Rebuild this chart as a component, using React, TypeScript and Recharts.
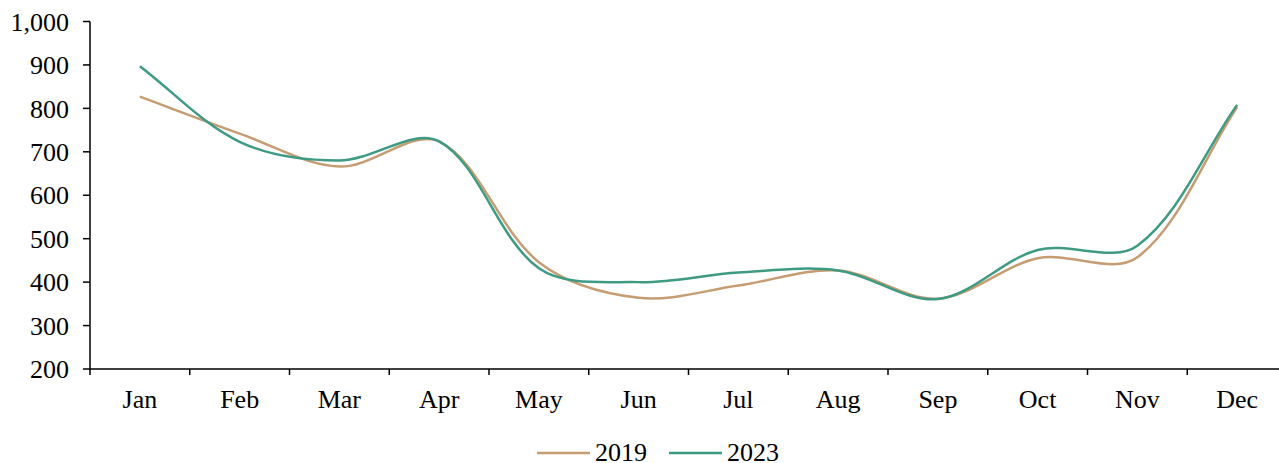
import { Legend, Line, LineChart, XAxis, YAxis } from 'recharts';

const months = ['Jan', 'Feb', 'Mar', 'Apr', 'May', 'Jun', 'Jul', 'Aug', 'Sep', 'Oct', 'Nov', 'Dec'];
const values2019 = [827, 742, 666, 724, 446, 364, 392, 427, 362, 455, 457, 803];
const values2023 = [897, 723, 680, 724, 432, 400, 422, 427, 361, 474, 484, 808];
const yTicks = [200, 300, 400, 500, 600, 700, 800, 900, 1000];

const data = months.map((month, i) => ({ month, y2019: values2019[i], y2023: values2023[i] }));

const FONT = '"Liberation Serif", "Times New Roman", serif';
const CHART_W = 1279;
const CHART_H = 455;
const Y_AXIS_W = 82;
const HALF_BAND = (CHART_W - Y_AXIS_W) / months.length / 2;

// smoothing close to Excel's "smoothed line" (bezier, tangents scaled by segment length)
function excelSmooth(context: any) {
  let pts: [number, number][] = [];
  const dist = (a: [number, number], b: [number, number]) => Math.hypot(b[0] - a[0], b[1] - a[1]);
  return {
    areaStart() {},
    areaEnd() {},
    lineStart() {
      pts = [];
    },
    point(x: number, y: number) {
      pts.push([+x, +y]);
    },
    lineEnd() {
      const n = pts.length;
      if (!n) return;
      context.moveTo(pts[0][0], pts[0][1]);
      for (let i = 0; i < n - 1; i++) {
        const p0 = pts[Math.max(i - 1, 0)];
        const p1 = pts[i];
        const p2 = pts[i + 1];
        const p3 = pts[Math.min(i + 2, n - 1)];
        const d01 = dist(p0, p1);
        const d12 = dist(p1, p2);
        const d23 = dist(p2, p3);
        const f1 = d01 + d12 > 0 ? d12 / (d01 + d12) / 3 : 0;
        const f2 = d12 + d23 > 0 ? d12 / (d12 + d23) / 3 : 0;
        context.bezierCurveTo(
          p1[0] + (p2[0] - p0[0]) * f1,
          p1[1] + (p2[1] - p0[1]) * f1,
          p2[0] - (p3[0] - p1[0]) * f2,
          p2[1] - (p3[1] - p1[1]) * f2,
          p2[0],
          p2[1],
        );
      }
    },
  };
}

function MonthTick({ x, y, payload, index }: any) {
  return (
    <g>
      <line x1={x - HALF_BAND} y1={y} x2={x - HALF_BAND} y2={y + 6} stroke="#000" strokeWidth={1.5} />
      {index === months.length - 1 && (
        <line x1={x + HALF_BAND} y1={y} x2={x + HALF_BAND} y2={y + 6} stroke="#000" strokeWidth={1.5} />
      )}
      <text x={x} y={y + 39} textAnchor="middle" fill="#000" fontSize={26} fontFamily={FONT}>
        {payload.value}
      </text>
    </g>
  );
}

function LegendContent({ payload }: any) {
  return (
    <div
      style={{
        display: 'flex',
        justifyContent: 'center',
        alignItems: 'center',
        height: 20,
        paddingLeft: 21,
        fontFamily: FONT,
        fontSize: 26,
        lineHeight: '20px',
        color: '#000',
      }}
    >
      {(payload || []).map((p: any, i: number) => (
        <div key={p.value} style={{ display: 'flex', alignItems: 'center', marginLeft: i ? 22 : 0 }}>
          <svg width={53} height={4}>
            <line x1={0} y1={2} x2={53} y2={2} stroke={p.color} strokeWidth={2.5} />
          </svg>
          <span style={{ display: 'inline-block', height: 20, marginLeft: 5 }}>{p.value}</span>
        </div>
      ))}
    </div>
  );
}

export default function App() {
  return (
    <div style={{ position: 'absolute', left: 8, top: 8, width: 1271, height: CHART_H, overflow: 'hidden', background: '#fff' }}>
      <LineChart width={CHART_W} height={CHART_H} data={data} margin={{ top: 13.5, right: 0, left: 0, bottom: 0 }}>
        <XAxis
          dataKey="month"
          scale="band"
          interval={0}
          height={74}
          tickSize={0}
          tickMargin={0}
          tickLine={false}
          axisLine={{ stroke: '#000', strokeWidth: 1.5 }}
          tick={<MonthTick />}
        />
        <YAxis
          type="number"
          width={Y_AXIS_W}
          domain={[200, 1000]}
          ticks={yTicks}
          interval={0}
          allowDataOverflow
          tickSize={7}
          tickMargin={14}
          tickFormatter={(v: number) => v.toLocaleString('en-US')}
          tick={{ fill: '#000', fontSize: 26, fontFamily: FONT }}
          tickLine={{ stroke: '#000', strokeWidth: 1.5 }}
          axisLine={{ stroke: '#000', strokeWidth: 1.5 }}
        />
        <Legend verticalAlign="bottom" height={20} content={<LegendContent />} />
        <Line
          name="2019"
          dataKey="y2019"
          type={excelSmooth as any}
          stroke="#C69C72"
          strokeWidth={2.5}
          dot={false}
          activeDot={false}
          isAnimationActive={false}
        />
        <Line
          name="2023"
          dataKey="y2023"
          type={excelSmooth as any}
          stroke="#3E9A83"
          strokeWidth={2.5}
          dot={false}
          activeDot={false}
          isAnimationActive={false}
        />
      </LineChart>
    </div>
  );
}
